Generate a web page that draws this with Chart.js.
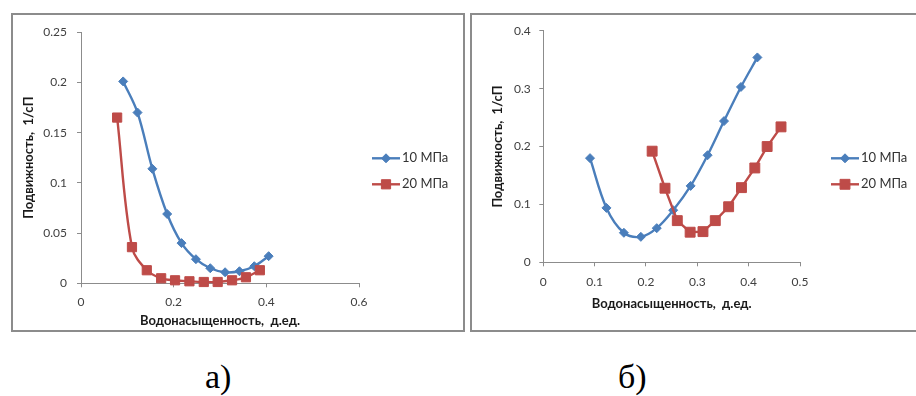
<!DOCTYPE html>
<html lang="ru">
<head>
<meta charset="utf-8">
<title>Подвижность при 10 и 20 МПа</title>
<script src="https://cdn.jsdelivr.net/npm/chart.js"></script>
<style>
    body { margin: 0; background: #fff; width: 916px; height: 396px; overflow: hidden; position: relative; }
    .panel { position: absolute; top: 13px; height: 315px; border: 2px solid #8c8c8c; background: #fff; }
    #panelA { left: 11px; width: 450px; }
    #panelB { left: 470px; width: 460px; }
    .panel canvas { position: absolute; left: 0; top: 0; }
    .caption { position: absolute; top: 360px; font: 34px "Liberation Serif", "Times New Roman", serif; color: #000; line-height: 34px; }
</style>
</head>
<body>
<div class="panel" id="panelA"><canvas id="chartA" width="450" height="315"></canvas></div>
<div class="panel" id="panelB"><canvas id="chartB" width="444" height="315"></canvas></div>
<div class="caption" id="capA" style="left:205px"></div>
<div class="caption" id="capB" style="left:618px"></div>

<script>
// Series names and captions
const seriesNames = ["10 МПа", "20 МПа"];
const panelCaptions = ["а)", "б)"];
const xTitle = "Водонасыщенность,  д.ед.";
const yTitle = "Подвижность,  1/сП";

// Panel a) - water saturation vs mobility
const satA10 = [0.091, 0.122, 0.154, 0.186, 0.217, 0.248, 0.279, 0.311, 0.342, 0.374, 0.405];
const mobA10 = [0.201, 0.170, 0.114, 0.069, 0.040, 0.024, 0.015, 0.011, 0.012, 0.017, 0.027];
const satA20 = [0.078, 0.110, 0.142, 0.173, 0.203, 0.234, 0.265, 0.295, 0.326, 0.356, 0.386];
const mobA20 = [0.165, 0.036, 0.013, 0.005, 0.003, 0.002, 0.0013, 0.0013, 0.003, 0.006, 0.013];
const xTicksA = [0, 0.2, 0.4, 0.6];
const yTicksA = [0, 0.05, 0.1, 0.15, 0.2, 0.25];

// Panel б)
const satB10 = [0.091, 0.123, 0.157, 0.190, 0.221, 0.253, 0.287, 0.320, 0.352, 0.385, 0.417];
const mobB10 = [0.180, 0.094, 0.051, 0.044, 0.059, 0.090, 0.132, 0.185, 0.244, 0.303, 0.354];
const satB20 = [0.212, 0.237, 0.261, 0.286, 0.311, 0.335, 0.361, 0.386, 0.412, 0.436, 0.463];
const mobB20 = [0.192, 0.128, 0.072, 0.052, 0.053, 0.072, 0.096, 0.129, 0.163, 0.200, 0.234];
const xTicksB = [0, 0.1, 0.2, 0.3, 0.4, 0.5];
const yTicksB = [0, 0.1, 0.2, 0.3, 0.4];

const BLUE = "#4a7ebb";
const RED = "#be4b48";
const AXIS = "#8c8c8c";
const FONT = 'Lato, "Liberation Sans", sans-serif';

Chart.defaults.font.family = FONT;

// Excel-style legend: short line with the marker in the middle, then the name
const sideLegend = {
    id: "sideLegend",
    afterDraw(chart, args, opts) {
        const ctx = chart.ctx;
        ctx.save();
        chart.data.datasets.forEach((ds, i) => {
            const y = opts.top + i * opts.rowGap;
            ctx.strokeStyle = ds.borderColor;
            ctx.lineWidth = ds.borderWidth;
            ctx.beginPath();
            ctx.moveTo(opts.left, y);
            ctx.lineTo(opts.left + opts.lineLength, y);
            ctx.stroke();

            ctx.fillStyle = ds.pointBackgroundColor;
            ctx.strokeStyle = ds.pointBorderColor;
            ctx.lineWidth = ds.pointBorderWidth;
            Chart.helpers.drawPoint(ctx, {
                pointStyle: ds.pointStyle, radius: ds.pointRadius, rotation: 0, borderWidth: ds.pointBorderWidth
            }, opts.left + opts.lineLength / 2, y);

            ctx.fillStyle = "#333";
            ctx.font = `13px ${FONT}`;
            ctx.textBaseline = "middle";
            ctx.textAlign = "left";
            ctx.fillText(ds.label, opts.left + opts.lineLength + 2, y);
        });
        ctx.restore();
    }
};

function series(name, xs, ys, color, marker, radius, tension, order) {
    return {
        label: name,
        data: xs.map((x, i) => ({ x, y: ys[i] })),
        borderColor: color,
        backgroundColor: color,
        borderWidth: 2.4,
        pointStyle: marker,
        pointRadius: radius,
        pointBackgroundColor: color,
        pointBorderColor: color,
        pointBorderWidth: 1,
        tension: tension,
        clip: false,
        order: order
    };
}

function axis(min, max, ticks, size, tickPad, titleOpts, isX) {
    return {
        type: "linear",
        min, max,
        afterBuildTicks: s => { s.ticks = ticks.map(v => ({ value: v })); },
        afterFit: s => { if (isX) s.height = size; else s.width = size; },
        border: { color: AXIS, width: 1 },
        grid: { display: true, drawOnChartArea: false, drawTicks: true, tickLength: 4, color: AXIS },
        ticks: { color: "#404040", padding: tickPad, font: { size: 12 }, callback: v => String(v) },
        title: {
            display: true,
            text: isX ? xTitle : yTitle,
            color: "#1a1a1a",
            font: { size: 13, weight: "bold" },
            padding: titleOpts
        }
    };
}

function makeChart(id, sets, f) {
    return new Chart(document.getElementById(id), {
        type: "line",
        data: { datasets: sets },
        options: {
            responsive: false,
            animation: false,
            events: [],
            layout: { padding: { left: 0, top: f.top, right: f.right, bottom: 0 } },
            plugins: {
                legend: { display: false },
                tooltip: { enabled: false },
                sideLegend: { left: 359, top: 143.3, rowGap: 26, lineLength: 28 }
            },
            scales: {
                x: axis(0, f.xMax, f.xTicks, f.xHeight, f.xTickPad, { top: 0, bottom: f.xTitlePad }, true),
                y: axis(0, f.yMax, f.yTicks, f.yWidth, f.yTickPad, { top: f.yTitlePad, bottom: 0 }, false)
            }
        },
        plugins: [sideLegend]
    });
}

makeChart("chartA", [
    series(seriesNames[0], satA10, mobA10, BLUE, "rectRot", 4.5, 0.35, 1),
    series(seriesNames[1], satA20, mobA20, RED, "rect", 6.5, 0.35, 0)
], {
    top: 14.3, right: 104, xHeight: 46.7, yWidth: 68,
    xMax: 0.6, yMax: 0.25, xTicks: xTicksA, yTicks: yTicksA,
    xTickPad: 7.8, yTickPad: 10, xTitlePad: 1.2, yTitlePad: 8.2
});

makeChart("chartB", [
    series(seriesNames[0], satB10, mobB10, BLUE, "rectRot", 4.5, 0.35, 1),
    series(seriesNames[1], satB20, mobB20, RED, "rect", 7, 0, 0)
], {
    top: 14.3, right: 116, xHeight: 67.7, yWidth: 71.3,
    xMax: 0.5, yMax: 0.4, xTicks: xTicksB, yTicks: yTicksB,
    xTickPad: 8.2, yTickPad: 8.6, xTitlePad: 18.2, yTitlePad: 18.2
});

document.getElementById("capA").textContent = panelCaptions[0];
document.getElementById("capB").textContent = panelCaptions[1];
</script>
</body>
</html>
